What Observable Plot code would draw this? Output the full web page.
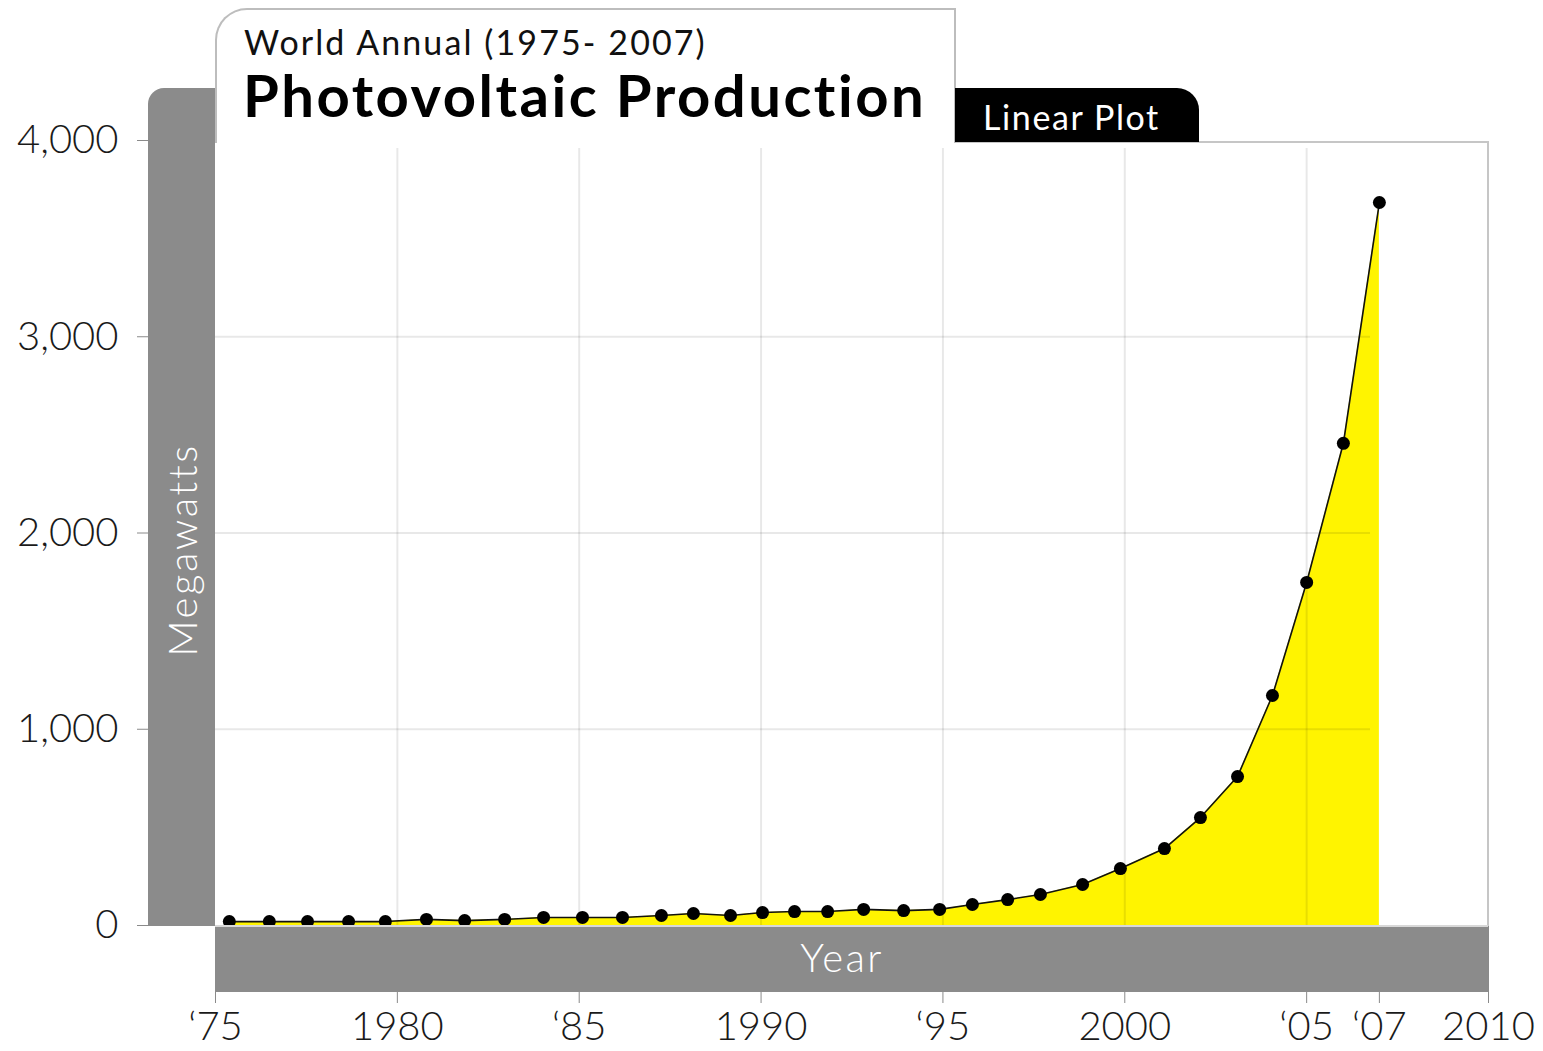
<!DOCTYPE html>
<html>
<head>
<meta charset="utf-8">
<script src="https://cdn.jsdelivr.net/npm/d3@7"></script>
<script src="https://cdn.jsdelivr.net/npm/@observablehq/plot@0.6"></script>
<style>
  html, body { margin: 0; padding: 0; background: #fff; }
  #wrap { position: relative; width: 1543px; height: 1051px; overflow: hidden; font-family: Lato, "Noto Sans", sans-serif; }
  #wrap > svg { position: absolute; left: 0; top: 0; }
  #wrap > svg text { font-weight: 300; }
  .abs { position: absolute; box-sizing: border-box; }
  .txt { position: absolute; white-space: nowrap; line-height: 1; }
  #wrap svg [aria-label="x-axis tick"], #wrap svg [aria-label="y-axis tick"] { color: #8a8a8a; }
  #wrap svg g[aria-label="x-axis"] .tick line, #wrap svg g[aria-label="y-axis"] .tick line { stroke: #8a8a8a; }
</style>
</head>
<body>
<div id="wrap"></div>
<script>
// Data (x position of each marker in years, value in megawatts)
const yearPositions = [1975.38, 1976.48, 1977.53, 1978.66, 1979.67, 1980.80, 1981.85, 1982.95,
  1984.02, 1985.09, 1986.19, 1987.26, 1988.14, 1989.16, 1990.04, 1990.92, 1991.83, 1992.82,
  1993.92, 1994.91, 1995.81, 1996.78, 1997.68, 1998.84, 1999.88, 2001.09, 2002.08, 2003.10,
  2004.06, 2005.00, 2006.01, 2007.00];
const megawatts = [20, 20, 20, 20, 20, 31, 25, 31, 41, 41, 41, 51, 61, 51, 66, 71, 71, 82,
  76, 82, 107, 132, 158, 209, 290, 392, 550, 759, 1172, 1748, 2457, 3684];

const xTickValues = [1975, 1980, 1985, 1990, 1995, 2000, 2005, 2007, 2010];
const xTickLabels = ["\u201875", "1980", "\u201885", "1990", "\u201895", "2000", "\u201805", "\u201807", "2010"];
const xGridYears = [1980, 1985, 1990, 1995, 2000, 2005];
const yTickValues = [0, 1000, 2000, 3000, 4000];
const yGridValues = [1000, 2000, 3000];

const subtitleText = "World Annual (1975- 2007)";
const titleText = "Photovoltaic Production";
const tabText = "Linear Plot";
const xLabel = "Year";
const yLabel = "Megawatts";

const data = yearPositions.map((x, i) => ({year: x, mw: megawatts[i]}));
const xLabelMap = new Map(xTickValues.map((v, i) => [v, xTickLabels[i]]));

const chart = Plot.plot({
  width: 1543,
  height: 1051,
  marginLeft: 215,
  marginRight: 55,
  marginTop: 140,
  marginBottom: 126,
  style: {fontFamily: 'Lato, "Noto Sans", sans-serif', fontSize: "40px", color: "#1a1a1a", background: "transparent"},
  x: {domain: [1975, 2010], ticks: xTickValues, tickFormat: d => xLabelMap.get(d), tickSize: 78, tickPadding: 8, label: null},
  y: {domain: [0, 4000], ticks: yTickValues, tickFormat: d3.format(","), tickSize: 78, tickPadding: 19, label: null},
  marks: [
    Plot.areaY(data, {x: "year", y: "mw", fill: "#fff400"}),
    Plot.ruleX(xGridYears, {stroke: "#000", strokeOpacity: 0.09, strokeWidth: 2, insetTop: 8}),
    Plot.ruleY(yGridValues, {stroke: "#000", strokeOpacity: 0.09, strokeWidth: 2, insetRight: 118}),
    Plot.line(data, {x: "year", y: "mw", stroke: "#111", strokeWidth: 1.6}),
    Plot.dot(data, {x: "year", y: "mw", r: 6.5, fill: "#000", stroke: "none"})
  ]
});

const wrap = document.getElementById("wrap");
wrap.appendChild(chart);

function box(styles, text) {
  const d = document.createElement("div");
  d.className = text != null ? "txt" : "abs";
  Object.assign(d.style, styles);
  if (text != null) d.textContent = text;
  wrap.appendChild(d);
  return d;
}

// plot frame border (top and right)
box({left: "215px", top: "141px", width: "1274px", height: "785px", borderTop: "2px solid #c6c6c6", borderRight: "2px solid #c6c6c6"});
// left gray band
box({left: "148px", top: "88px", width: "67px", height: "838px", background: "#8b8b8b", borderTopLeftRadius: "16px"});
// bottom gray band
box({left: "215px", top: "925px", width: "1273px", height: "67px", background: "#8b8b8b", borderTop: "2px solid #d8d8d8"});
// title box
box({left: "215px", top: "8px", width: "741px", height: "135px", background: "#fff", border: "2px solid #bdbdbd", borderBottom: "none", borderTopLeftRadius: "32px"});
// black tab
box({left: "955px", top: "88px", width: "244px", height: "54px", background: "#000", borderTopRightRadius: "22px"});

box({left: "244px", top: "25px", fontSize: "34px", letterSpacing: "2.1px", color: "#111"}, subtitleText);
box({left: "243px", top: "66px", fontSize: "58px", fontWeight: "bold", letterSpacing: "2.5px", color: "#000"}, titleText);
box({left: "983px", top: "100px", fontSize: "34px", letterSpacing: "1.6px", color: "#fff"}, tabText);
box({left: "842px", top: "937px", fontSize: "40px", fontWeight: "300", letterSpacing: "2.4px", color: "#fff", transform: "translateX(-50%)"}, xLabel);
box({left: "182px", top: "550px", fontSize: "40px", fontWeight: "300", letterSpacing: "2.6px", color: "#fff", transform: "translate(-50%,-50%) rotate(-90deg)"}, yLabel);
</script>
</body>
</html>
